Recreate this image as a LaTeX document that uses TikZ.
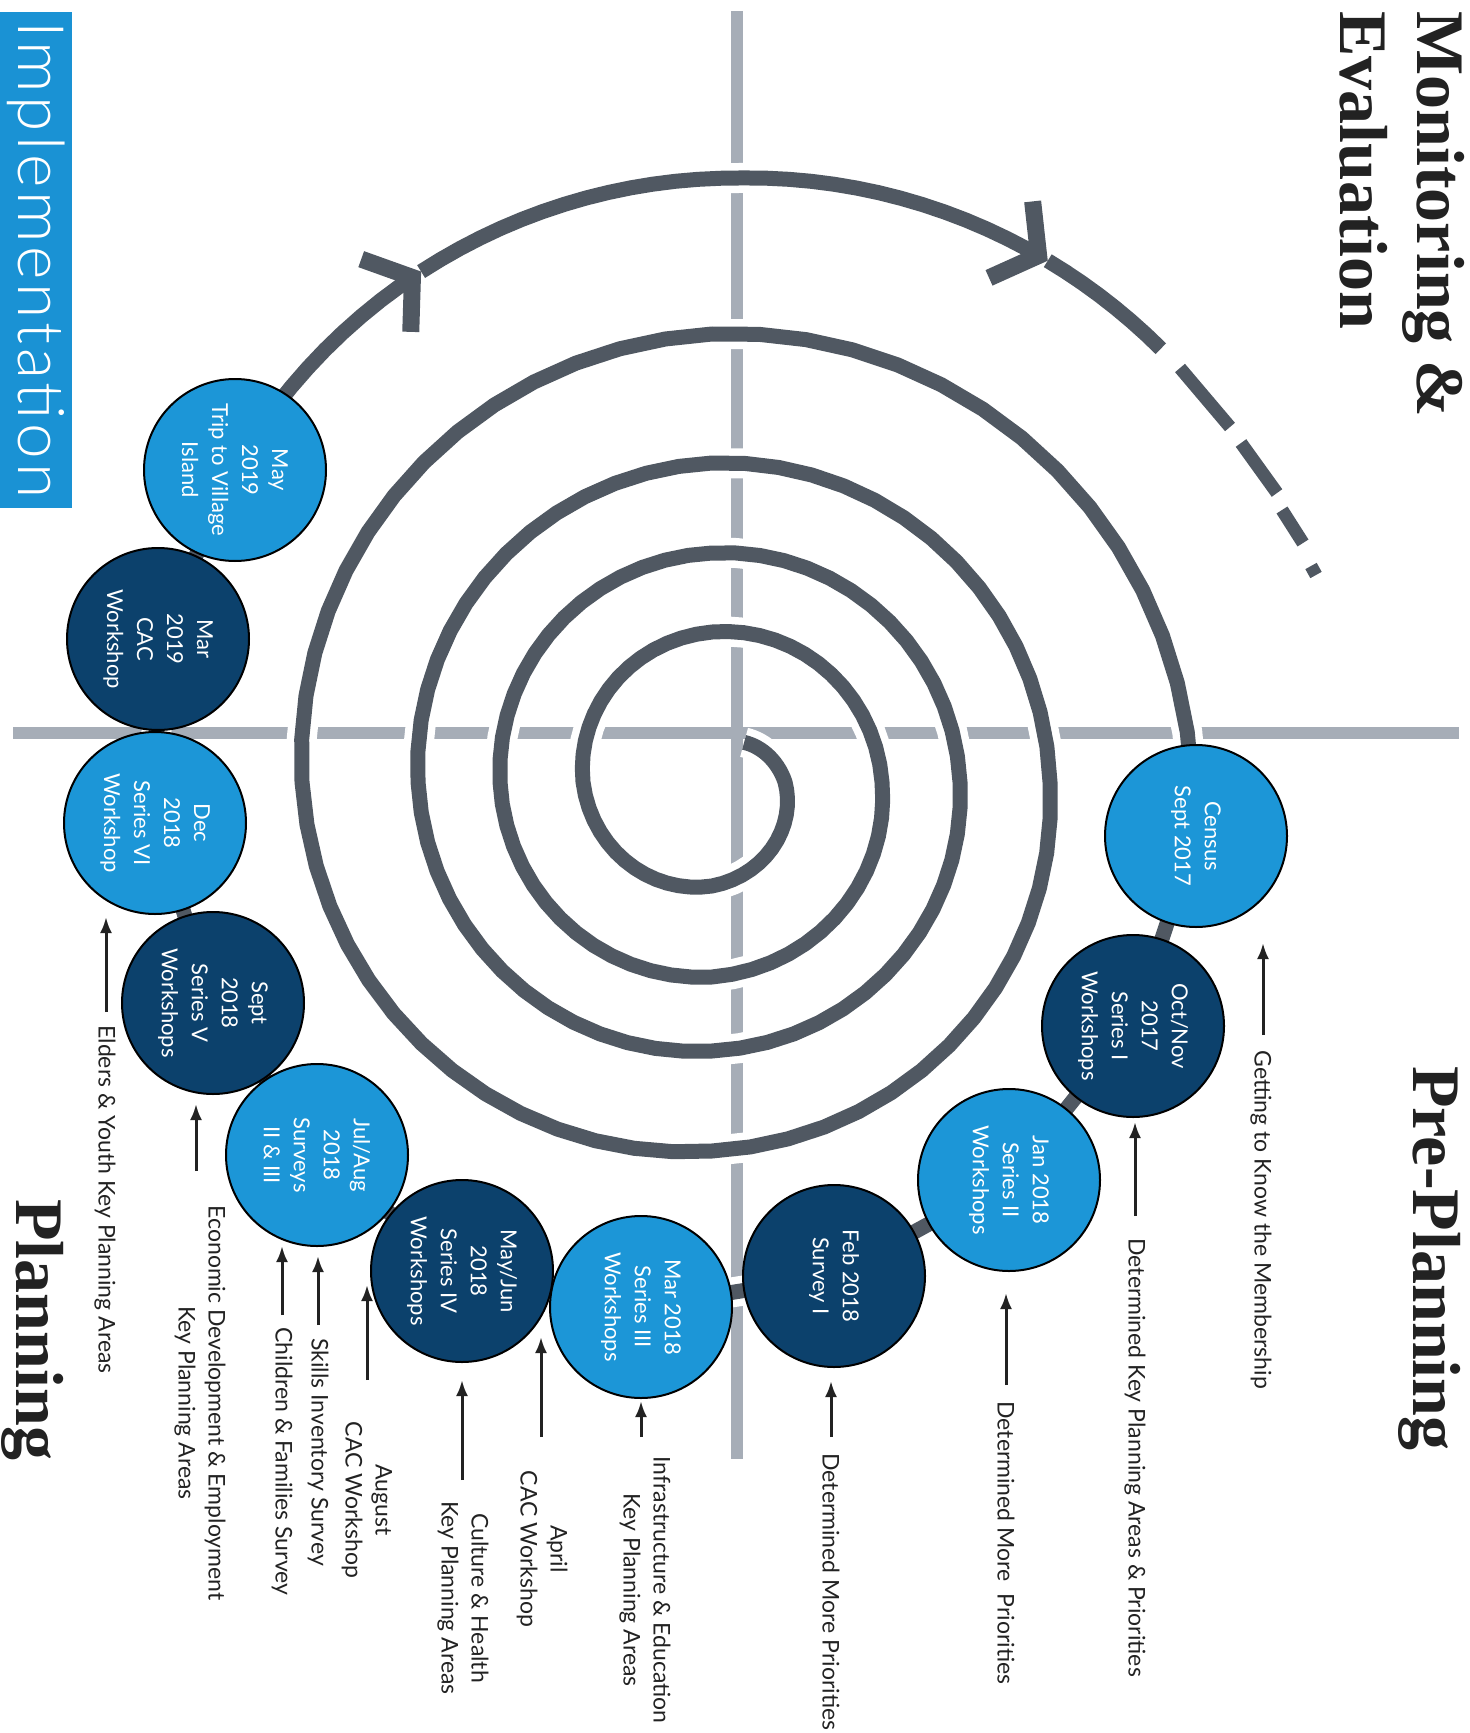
\documentclass[tikz,border=0pt]{standalone}
\usepackage{fontspec}
\setmainfont{Lato}
\newfontfamily\headfont{Liberation Serif}
\IfFontExistsTF{Lato Light}{\newfontfamily\implfont{Lato Light}[LetterSpace=6]}{\newfontfamily\implfont{Lato}[LetterSpace=6]}
\usetikzlibrary{arrows.meta}
\definecolor{axisgray}{HTML}{A6ADB7}
\definecolor{spiralgray}{HTML}{505862}
\definecolor{lightblue}{HTML}{1C96D7}
\definecolor{darkblue}{HTML}{0C416C}
\definecolor{implblue}{HTML}{1A92D4}
\definecolor{labtext}{HTML}{222222}
\begin{document}
\begin{tikzpicture}[x=0.5pt,y=-0.5pt,line join=round,
  axisline/.style={draw=axisgray,line width=6pt},
  halo/.style={draw=white,line width=15pt},
  spiral/.style={draw=spiralgray,line width=7.5pt},
  circ/.style={circle,draw=black,line width=1pt,minimum size=91pt,inner sep=0pt,rotate=-90,
    align=center,text=white,font=\fontsize{11}{15}\selectfont},
  lightc/.style={circ,fill=lightblue},
  darkc/.style={circ,fill=darkblue},
  lab/.style={rotate=-90,font=\fontsize{11.5}{15}\selectfont,text=labtext,inner sep=0pt,align=center},
  labarrow/.style={-{Latex[length=8pt,width=6pt]},line width=1.5pt,draw=labtext},
  heading/.style={rotate=-90,font=\headfont\bfseries\fontsize{34}{38}\selectfont,inner sep=0pt,text=labtext},
  barb/.style={-{Straight Barb[length=16pt,width=44pt,line width=8.5pt]}}
]
\useasboundingbox (0,0) rectangle (1469,1733);

% axes
\coordinate (vtop) at (737,11);
\coordinate (vbot) at (737,1459);
\coordinate (hleft) at (13,733);
\coordinate (hright) at (1459,733);
\draw[axisline] (vtop) -- (vbot);
\draw[axisline] (hleft) -- (hright);

% circle centres
\coordinate (pCensus) at (1196,836);
\coordinate (pOctNov) at (1133,1026);
\coordinate (pJan) at (1009,1180);
\coordinate (pFeb) at (834,1276);
\coordinate (pMarA) at (641,1307);
\coordinate (pMayJun) at (462,1271);
\coordinate (pJulAug) at (317,1155);
\coordinate (pSept) at (213,1003);
\coordinate (pDec) at (155,823);
\coordinate (pMarB) at (158,639);
\coordinate (pMayB) at (235,470);

% spiral: Archimedean-like, centre (712,782), radius knots every quarter turn
\def\spiralA{({712+51*cos(-51)},{782+51*sin(-51)})
  \foreach \a/\b/\ra/\rb in {-51/0/51/73,0/90/73/104,90/180/104/129,180/270/129/150,
     270/360/150/170,360/450/170/195,450/540/195/212,540/630/212/229,630/720/229/248,
     720/810/248/269,810/900/269/294,900/990/294/319,990/1080/319/338,
     1080/1170/338/369,1170/1260/369/410,1260/1350/410/448,1350/1440/448/480}{
    -- plot[domain=\a:\b,samples=16,variable=\t]
      ({712+(\ra+(\rb-\ra)*(\t-\a)/(\b-\a))*cos(\t)},
       {782+(\ra+(\rb-\ra)*(\t-\a)/(\b-\a))*sin(\t)})}
  -- (pCensus) -- (pOctNov) -- (pJan) -- (pFeb) -- (pMarA) -- (pMayJun)
  -- (pJulAug) -- (pSept) -- (pDec) -- (pMarB) -- (pMayB)
  -- plot[domain=210:237,samples=12,variable=\t] ({737+580*cos(\t)},{758+580*sin(\t)})}
\def\spiralB{plot[domain=237:302,samples=30,variable=\t]
  ({737+(580+max(0,\t-270)*0.2)*cos(\t)},{758+(580+max(0,\t-270)*0.2)*sin(\t)})}
\def\spiralC{plot[domain=302:316,samples=8,variable=\t]
  ({737+(580+(\t-270)*0.2)*cos(\t)},{758+(580+(\t-270)*0.2)*sin(\t)})}

\draw[halo] \spiralA;
\draw[halo] \spiralB;
\draw[spiral,barb] \spiralA;
\draw[spiral,barb] \spiralB;
\draw[spiral] \spiralC;

% dashes at the end of the spiral
\coordinate (d1a) at (1180,368); \coordinate (d1b) at (1230,427);
\coordinate (d2a) at (1241,443); \coordinate (d2b) at (1277,493);
\coordinate (d3a) at (1282,510); \coordinate (d3b) at (1303,543);
\coordinate (d4a) at (1311,566); \coordinate (d4b) at (1316,575);
\draw[spiral,line width=6.5pt] (d1a) -- (d1b);
\draw[spiral,line width=6.5pt] (d2a) -- (d2b);
\draw[spiral,line width=6.5pt] (d3a) -- (d3b);
\draw[spiral,line width=6.5pt] (d4a) -- (d4b);

% circles
\node[lightc] (census) at (pCensus) {Census\\Sept 2017};
\node[darkc] (octnov) at (pOctNov) {Oct/Nov\\2017\\Series I\\Workshops};
\node[lightc] (jan) at (pJan) {Jan 2018\\Series II\\Workshops};
\node[darkc] (feb) at (pFeb) {Feb 2018\\Survey I};
\node[lightc] (mara) at (pMarA) {Mar 2018\\Series III\\Workshops};
\node[darkc] (mayjun) at (pMayJun) {May/Jun\\2018\\Series IV\\Workshops};
\node[lightc] (julaug) at (pJulAug) {Jul/Aug\\2018\\Surveys\\II \& III};
\node[darkc] (sept) at (pSept) {Sept\\2018\\Series V\\Workshops};
\node[lightc] (dec) at (pDec) {Dec\\2018\\Series VI\\Workshop};
\node[darkc] (marb) at (pMarB) {Mar\\2019\\CAC\\Workshop};
\node[lightc] (mayb) at (pMayB) {May\\2019\\Trip to Village\\Island};

% labels
\node[lab,anchor=west] (l1) at (1261,1050) {Getting to Know the Membership};
\node[lab,anchor=west] (l2) at (1135,1238) {Determined Key Planning Areas \& Priorities};
\node[lab,anchor=west] (l3) at (1006,1401) {Determined More\ \ Priorities};
\node[lab,anchor=west] (l4) at (831,1453) {Determined More Priorities};
\node[lab] (l5) at (645,1590) {Infrastructure \& Education\\Key Planning Areas};
\node[lab] (l6) at (542,1549) {April\\CAC Workshop};
\node[lab] (l7) at (463,1598) {Culture \& Health\\Key Planning Areas};
\node[lab] (l8) at (367,1500) {August\\CAC Workshop};
\node[lab,anchor=west] (l9) at (318,1338) {Skills Inventory Survey};
\node[lab,anchor=west] (l10) at (282,1327) {Children \& Families Survey};
\node[lab] (l11) at (200,1403) {Economic Development \& Employment\\Key Planning Areas};
\node[lab,anchor=west] (l12) at (105,1025) {Elders \& Youth Key Planning Areas};

% label arrows
\coordinate (a1h) at (1263,943);  \coordinate (a1t) at (1263,1035);
\coordinate (a2h) at (1135,1122); \coordinate (a2t) at (1135,1216);
\coordinate (a3h) at (1006,1293); \coordinate (a3t) at (1006,1385);
\coordinate (a4h) at (831,1381);  \coordinate (a4t) at (831,1437);
\coordinate (a5h) at (641,1401);  \coordinate (a5t) at (641,1437);
\coordinate (a6h) at (541,1337);  \coordinate (a6t) at (541,1437);
\coordinate (a7h) at (462,1380);  \coordinate (a7t) at (462,1480);
\coordinate (a8h) at (367,1285);  \coordinate (a8t) at (367,1380);
\coordinate (a9h) at (318,1256);  \coordinate (a9t) at (318,1325);
\coordinate (a10h) at (282,1246); \coordinate (a10t) at (282,1315);
\coordinate (a11h) at (196,1104); \coordinate (a11t) at (196,1171);
\coordinate (a12h) at (106,917);  \coordinate (a12t) at (106,1012);
\foreach \i in {1,...,12}{\draw[labarrow] (a\i t) -- (a\i h);}

% headings
\node[heading,anchor=base west] (h1) at (1417,11) {Monitoring \&};
\node[heading,anchor=base west] (h2) at (1340,11) {Evaluation};
\node[heading,anchor=base west] (h3) at (1413,1066) {Pre-Planning};
\node[heading,anchor=base west] (h4) at (17,1199) {Planning};
\node[rotate=-90,fill=implblue,text=white,minimum width=248pt,minimum height=36pt,
  inner sep=0pt,font=\implfont\fontsize{32}{32}\selectfont] (impl) at (36,260) {Implementation};
\end{tikzpicture}
\end{document}
